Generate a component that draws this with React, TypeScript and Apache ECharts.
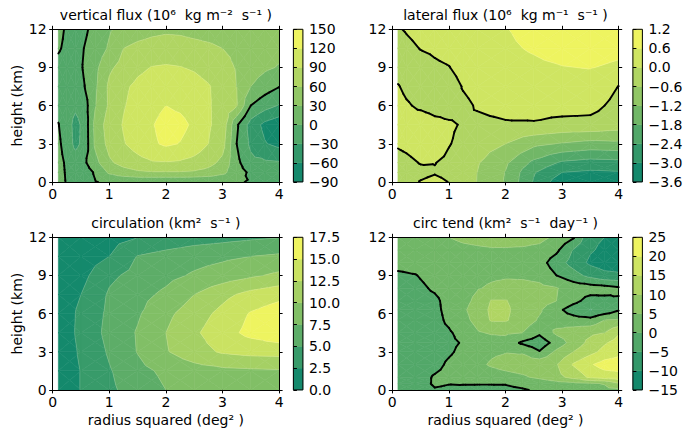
import React, { useEffect, useRef } from 'react';
import * as echarts from 'echarts';

const FONT = 'DejaVu Sans';

// ---------------- vertical flux ----------------
const vfX = [0.1, 0.25, 0.4, 0.55, 0.75, 1.0, 1.25, 1.5, 1.75, 2.0, 2.25, 2.5, 2.75, 3.0, 3.25, 3.5, 3.75, 4.0];
const vfY = [0, 0.75, 1.5, 3, 4.5, 6, 7.5, 9, 10.5, 12];
const vfZ = [
  [10, -2, -8, -12, -1, 4, 5, 5, 4, 3, 3, 3, 3, 3, 2, -1.5, -10, -12],
  [9, -3, -12, -14, 3, 35, 48, 55, 58, 58, 58, 56, 50, 38, 12, -5, -16, -20],
  [8, -4, -15, -6, 20, 55, 70, 80, 87, 88, 86, 80, 70, 52, 8, -22, -25, -27],
  [5, -12, -38, -22, 35, 70, 88, 102, 115, 125, 119, 108, 90, 72, 0, -36, -58, -68],
  [1, -15, -40, -22, 38, 75, 92, 105, 118, 130, 128, 115, 93, 80, 5, -42, -68, -80],
  [-8, -15, -24, -15, 28, 65, 88, 100, 112, 120, 115, 106, 93, 78, 62, 0, -18, -32],
  [-12, -15, -18, -2, 25, 66, 85, 96, 102, 105, 104, 100, 92, 80, 60, 30, 14, 1],
  [-8, -14, -16, 3, 22, 55, 70, 84, 91, 93, 91, 87, 80, 70, 58, 45, 35, 28],
  [3, -6, -14, 0, 12, 34, 60, 68, 72, 74, 73, 70, 66, 60, 54, 47, 42, 38],
  [8, -4, -10, -5, 8, 27, 38, 46, 52, 55, 54, 50, 47, 45, 43, 42, 41, 40],
];
const vfLevels = [-90, -60, -30, 0, 30, 60, 90, 120, 150];

// ---------------- lateral flux ----------------
const lfX = [0.1, 0.25, 0.5, 0.75, 1.0, 1.25, 1.5, 2.0, 2.5, 3.0, 3.5, 4.0];
const lfY = [0, 0.75, 1.5, 3, 4.5, 6, 7.5, 9, 10.5, 12];
const lfZ = [
  [-0.2, -0.15, 0.02, 0.1, -0.01, -0.2, -0.62, -1.25, -2.45, -3.4, -3.55, -3.5],
  [-0.2, -0.15, -0.1, -0.03, -0.1, -0.2, -0.6, -1.22, -2.35, -3.0, -3.1, -3.05],
  [-0.15, -0.1, 0.02, 0.01, -0.08, -0.2, -0.55, -1.1, -1.95, -2.5, -2.65, -2.6],
  [0.05, 0.1, 0.2, 0.2, 0.02, -0.1, -0.3, -0.6, -1.05, -1.25, -1.4, -1.35],
  [0.15, 0.2, 0.25, 0.12, 0.05, -0.03, -0.1, -0.05, -0.05, -0.15, -0.15, -0.3],
  [0.15, 0.05, -0.08, -0.15, -0.15, -0.1, 0.04, 0.15, 0.2, 0.2, 0.15, -0.15],
  [0.03, -0.1, -0.2, -0.25, -0.25, 0.03, 0.15, 0.3, 0.35, 0.4, 0.35, -0.01],
  [-0.2, -0.25, -0.25, -0.1, -0.02, 0.2, 0.28, 0.42, 0.5, 0.58, 0.62, 0.5],
  [-0.3, -0.15, 0.02, 0.1, 0.2, 0.3, 0.4, 0.52, 0.65, 0.8, 0.85, 0.75],
  [-0.05, 0.05, 0.2, 0.3, 0.35, 0.42, 0.48, 0.58, 0.75, 0.95, 1.0, 0.95],
];
const lfLevels = [-3.6, -3.0, -2.4, -1.8, -1.2, -0.6, 0, 0.6, 1.2];

// ---------------- circulation ----------------
const ciX = [0.1, 0.5, 1, 1.5, 2, 2.5, 3, 3.5, 4];
const ciY = [0, 1.5, 3, 4.5, 6, 7.5, 9, 10.5, 12];
const ciZ = [
  [0.5, 2.6, 4.5, 6.2, 7.5, 8.2, 8.7, 9.0, 9.2],
  [0.6, 2.6, 4.8, 6.8, 8.0, 8.9, 9.4, 9.6, 9.75],
  [0.6, 2.9, 5.3, 7.6, 9.8, 11.5, 12.8, 13.3, 13.4],
  [0.7, 3.2, 5.7, 7.7, 10.0, 12.1, 14.0, 15.7, 16.8],
  [0.7, 3.1, 5.5, 7.2, 9.4, 11.3, 13.2, 15.2, 16.4],
  [0.7, 2.5, 5.3, 6.7, 8.0, 10.0, 11.8, 13.3, 14.2],
  [0.6, 1.7, 4.5, 5.8, 6.8, 7.8, 8.7, 9.6, 10.5],
  [0.5, 1.3, 2.5, 5.1, 5.9, 6.6, 7.0, 7.5, 7.9],
  [0.4, 0.9, 1.6, 2.45, 3.2, 3.8, 4.2, 4.6, 4.9],
];
const ciLevels = [0, 2.5, 5, 7.5, 10, 12.5, 15, 17.5];

// ---------------- circ tend ----------------
const ctX = [0.1, 0.4, 0.75, 1.0, 1.25, 1.5, 1.75, 2.0, 2.3, 2.6, 2.9, 3.2, 3.5, 3.75, 4.0];
const ctY = [0, 0.5, 1, 2, 3, 3.7, 4.5, 5.5, 6.3, 7, 8, 9, 10, 11, 12];
const ctZ = [
  [-3, -2.5, -0.3, -0.5, -0.8, -1, -1, -0.8, -0.3, 0.5, 1.5, 2.5, 3.2, 3.8, 4.2],
  [-3, -2, 0.5, 0.1, 0.2, 0.2, 0.2, 0.2, 1, 2, 3, 3.8, 4.5, 5.3, 9.5],
  [-3, -2.5, 0.5, 1.5, 2, 2.5, 3, 3.5, 4.3, 6, 8.5, 11.5, 16, 17.5, 18],
  [-3, -2.8, -1.5, 0.8, 2.3, 4, 5.5, 6.5, 7.5, 8.5, 9.7, 15.5, 19.5, 22, 22.5],
  [-3, -2.8, -2, -0.7, 1.2, 3, 4.3, 4.8, 4.5, 0.3, 6, 10, 13.5, 16.5, 18.5],
  [-3, -2.7, -1.8, -0.8, 0.3, 2, 3, 3, -0.8, -3, 2, 7, 11.5, 14.5, 17],
  [-3, -2.5, -1.5, -0.5, 1.5, 4.5, 5.5, 5.8, 5, 1.0, 6, 7.5, 9, 10, 14.5],
  [-2.5, -2.2, -1.3, 0.8, 3.5, 6.5, 10.5, 10.5, 7.8, 4.5, 3, 2, 1.5, 5, 5.3],
  [-2.5, -2, -1, 1.2, 4.3, 7, 11, 11, 7.5, 5.6, 1.5, -2.5, -5.2, -3.5, -0.5],
  [-2.2, -1.8, -0.9, 1.5, 3.7, 6, 10.3, 10.3, 8, 7, 5, 1.5, -2, -1.5, -0.5],
  [-2, -1.2, 0.6, 2, 3.5, 4.7, 5.6, 6.3, 6.5, 6.2, 5.3, 3, 2.5, 2, 0.8],
  [-0.8, -0.2, 1.5, 2.5, 3, 3.8, 4.3, 4.5, 4.3, 3.5, 0, -3, -6.5, -8.5, -9],
  [1.5, 1.8, 2.2, 2.5, 3, 3.3, 3.5, 3.5, 3.2, 2, -2.5, -7, -11, -12.5, -13],
  [1.5, 2, 2.5, 3, 3.8, 4.2, 4.5, 4.5, 4.3, 3.5, 1, -5.3, -9.5, -11, -12],
  [2, 3, 4, 5, 6, 6.5, 7, 7, 7, 6.5, 4, 0.5, -9, -10, -10.5],
];
const ctLevels = [-15, -10, -5, 0, 5, 10, 15, 20, 25];

const titles = [
  'vertical flux (10⁶  kg m⁻²  s⁻¹ )',
  'lateral flux (10⁶  kg m⁻¹  s⁻¹ )',
  'circulation (km²  s⁻¹ )',
  'circ tend (km²  s⁻¹  day⁻¹ )',
];
const xTicks = [0, 1, 2, 3, 4];
const yTicks = [0, 3, 6, 9, 12];

// ---------------- contour helpers ----------------
type P3 = [number, number, number];

function interp(a: P3, b: P3, lv: number): P3 {
  const t = (lv - a[2]) / (b[2] - a[2]);
  return [a[0] + t * (b[0] - a[0]), a[1] + t * (b[1] - a[1]), lv];
}
function clip(poly: P3[], lv: number, above: boolean): P3[] {
  const out: P3[] = [];
  const n = poly.length;
  for (let i = 0; i < n; i++) {
    const cur = poly[i];
    const prev = poly[(i + n - 1) % n];
    const ci = above ? cur[2] >= lv : cur[2] <= lv;
    const pi = above ? prev[2] >= lv : prev[2] <= lv;
    if (ci) {
      if (!pi) out.push(interp(prev, cur, lv));
      out.push(cur);
    } else if (pi) out.push(interp(prev, cur, lv));
  }
  return out;
}
function triangles(xs: number[], ys: number[], z: number[][]): P3[][] {
  const tris: P3[][] = [];
  for (let j = 0; j < ys.length - 1; j++) {
    for (let i = 0; i < xs.length - 1; i++) {
      const a: P3 = [xs[i], ys[j], z[j][i]];
      const b: P3 = [xs[i + 1], ys[j], z[j][i + 1]];
      const c: P3 = [xs[i + 1], ys[j + 1], z[j + 1][i + 1]];
      const d: P3 = [xs[i], ys[j + 1], z[j + 1][i]];
      const m: P3 = [(xs[i] + xs[i + 1]) / 2, (ys[j] + ys[j + 1]) / 2, (a[2] + b[2] + c[2] + d[2]) / 4];
      tris.push([a, b, m], [b, c, m], [c, d, m], [d, a, m]);
    }
  }
  return tris;
}
function bands(tris: P3[][], levels: number[]) {
  const res: { k: number; pts: number[][] }[] = [];
  const nb = levels.length - 1;
  for (const t of tris) {
    for (let k = 0; k < nb; k++) {
      let p: P3[] = t;
      if (k > 0) p = clip(p, levels[k], true);
      if (p.length < 3) continue;
      if (k < nb - 1) p = clip(p, levels[k + 1], false);
      if (p.length < 3) continue;
      res.push({ k, pts: p.map((q) => [q[0], q[1]]) });
    }
  }
  return res;
}
function segments(tris: P3[][], lv: number) {
  const segs: number[][][] = [];
  for (const t of tris) {
    const pts: P3[] = [];
    for (let e = 0; e < 3; e++) {
      const a = t[e];
      const b = t[(e + 1) % 3];
      if (a[2] > lv !== b[2] > lv) pts.push(interp(a, b, lv));
    }
    if (pts.length === 2) segs.push([[pts[0][0], pts[0][1]], [pts[1][0], pts[1][1]]]);
  }
  return segs;
}
function bandColors(n: number) {
  const c0 = [20, 137, 108];
  const c1 = [238, 244, 96];
  return Array.from({ length: n }, (_, k) => {
    const t = n === 1 ? 0 : k / (n - 1);
    const c = c0.map((v, i) => Math.round(v + t * (c1[i] - v)));
    return `rgb(${c[0]},${c[1]},${c[2]})`;
  });
}
function fmt(dec: number) {
  return (v: number) => {
    const x = Math.abs(v) < 1e-9 ? 0 : v;
    return x.toFixed(dec).replace('-', '\u2212');
  };
}

const panels = [
  { xs: vfX, ys: vfY, z: vfZ, levels: vfLevels, zero: true, dec: 0, gx: 52.7, gy: 29.3, cbx: 293.4 },
  { xs: lfX, ys: lfY, z: lfZ, levels: lfLevels, zero: true, dec: 1, gx: 392.3, gy: 29.3, cbx: 632.9 },
  { xs: ciX, ys: ciY, z: ciZ, levels: ciLevels, zero: false, dec: 1, gx: 52.7, gy: 237.3, cbx: 293.4 },
  { xs: ctX, ys: ctY, z: ctZ, levels: ctLevels, zero: true, dec: 0, gx: 392.3, gy: 237.3, cbx: 632.9 },
];
const GW = 226.4;
const GH = 152.6;
const CBW = 9.5;
const FS = 14;

function buildOption() {
  const grid: any[] = [];
  const xAxis: any[] = [];
  const yAxis: any[] = [];
  const series: any[] = [];
  const graphic: any[] = [];
  const axisText = { color: '#000', fontFamily: FONT, fontSize: FS };
  const blackLine = { color: '#000', width: 1 };

  panels.forEach((p) => grid.push({ left: p.gx, top: p.gy, width: GW, height: GH }));
  panels.forEach((p) => grid.push({ left: p.cbx, top: p.gy, width: CBW, height: GH }));

  panels.forEach((p, pi) => {
    const bottomRow = pi >= 2;
    const leftCol = pi % 2 === 0;
    xAxis.push({
      gridIndex: pi, type: 'value', min: 0, max: 4, interval: 1, position: 'bottom', z: 10,
      axisLine: { show: true, onZero: false, lineStyle: blackLine },
      axisTick: { show: true, inside: false, length: 3.5, lineStyle: blackLine },
      axisLabel: { show: true, margin: 5, ...axisText, formatter: (v: number) => (xTicks.includes(v) ? String(v) : '') },
      splitLine: { show: false },
      name: bottomRow ? 'radius squared (deg² )' : '', nameLocation: 'middle', nameGap: 23,
      nameTextStyle: { ...axisText },
    });
    xAxis.push({
      gridIndex: pi, type: 'value', min: 0, max: 4, interval: 1, position: 'top', z: 10,
      axisLine: { show: true, onZero: false, lineStyle: blackLine },
      axisTick: { show: true, inside: false, length: 3.5, lineStyle: blackLine },
      axisLabel: { show: false }, splitLine: { show: false },
    });
    yAxis.push({
      gridIndex: pi, type: 'value', min: 0, max: 12, interval: 3, position: 'left', z: 10,
      axisLine: { show: true, onZero: false, lineStyle: blackLine },
      axisTick: { show: true, inside: false, length: 3.5, lineStyle: blackLine },
      axisLabel: { show: true, margin: 6, ...axisText, formatter: (v: number) => (yTicks.includes(v) ? String(v) : '') },
      splitLine: { show: false },
      name: leftCol ? 'height (km)' : '', nameLocation: 'middle', nameGap: 29, nameRotate: 90,
      nameTextStyle: { ...axisText },
    });
    yAxis.push({
      gridIndex: pi, type: 'value', min: 0, max: 12, interval: 3, position: 'right', z: 10,
      axisLine: { show: true, onZero: false, lineStyle: blackLine },
      axisTick: { show: true, inside: false, length: 3.5, lineStyle: blackLine },
      axisLabel: { show: false }, splitLine: { show: false },
    });
  });
  panels.forEach((p, pi) => {
    const L = p.levels;
    xAxis.push({ gridIndex: 4 + pi, type: 'value', min: 0, max: 1, show: false });
    yAxis.push({
      gridIndex: 4 + pi, type: 'value', min: L[0], max: L[L.length - 1], interval: L[1] - L[0], position: 'right', z: 10,
      axisLine: { show: false },
      axisTick: { show: true, inside: false, length: 3.5, lineStyle: blackLine },
      axisLabel: { show: true, margin: 6, ...axisText, formatter: fmt(p.dec) },
      splitLine: { show: false },
    });
  });

  panels.forEach((p, pi) => {
    const cols = bandColors(p.levels.length - 1);
    const tris = triangles(p.xs, p.ys, p.z);
    const polys = bands(tris, p.levels);
    series.push({
      type: 'custom', coordinateSystem: 'cartesian2d', xAxisIndex: 2 * pi, yAxisIndex: 2 * pi,
      silent: true, clip: true, z: 2,
      data: polys.map((q, i) => [q.pts[0][0], q.pts[0][1], i]),
      encode: { x: 0, y: 1 },
      renderItem: (params: any, api: any) => {
        const q = polys[params.dataIndex];
        return {
          type: 'polygon',
          shape: { points: q.pts.map((pt) => api.coord(pt)) },
          style: { fill: cols[q.k], stroke: cols[q.k], lineWidth: 0.6 },
        };
      },
    });
    const inner: number[][][] = [];
    p.levels.slice(1, -1).forEach((lv) => segments(tris, lv).forEach((s) => inner.push(s)));
    series.push({
      type: 'custom', coordinateSystem: 'cartesian2d', xAxisIndex: 2 * pi, yAxisIndex: 2 * pi,
      silent: true, clip: true, z: 3,
      data: inner.map((s, i) => [s[0][0], s[0][1], i]),
      encode: { x: 0, y: 1 },
      renderItem: (params: any, api: any) => {
        const s = inner[params.dataIndex];
        const a = api.coord(s[0]);
        const b = api.coord(s[1]);
        return { type: 'line', shape: { x1: a[0], y1: a[1], x2: b[0], y2: b[1] }, style: { stroke: 'rgba(255,255,255,0.28)', lineWidth: 0.6 } };
      },
    });
    if (p.zero) {
      const zs = segments(tris, 0);
      series.push({
        type: 'custom', coordinateSystem: 'cartesian2d', xAxisIndex: 2 * pi, yAxisIndex: 2 * pi,
        silent: true, clip: true, z: 4,
        data: zs.map((s, i) => [s[0][0], s[0][1], i]),
        encode: { x: 0, y: 1 },
        renderItem: (params: any, api: any) => {
          const s = zs[params.dataIndex];
          const a = api.coord(s[0]);
          const b = api.coord(s[1]);
          return { type: 'line', shape: { x1: a[0], y1: a[1], x2: b[0], y2: b[1] }, style: { stroke: '#000', lineWidth: 1.9, lineCap: 'round' } };
        },
      });
    }
    const L = p.levels;
    const nb = L.length - 1;
    series.push({
      type: 'custom', coordinateSystem: 'cartesian2d', xAxisIndex: 8 + pi, yAxisIndex: 8 + pi,
      silent: true, z: 2,
      data: Array.from({ length: nb + 1 }, (_, k) => [0.5, L[Math.min(k, nb - 1)], k]),
      encode: { x: 0, y: 1 },
      renderItem: (params: any, api: any) => {
        const k = params.dataIndex;
        if (k < nb) {
          const p1 = api.coord([0, L[k]]);
          const p2 = api.coord([1, L[k + 1]]);
          return {
            type: 'rect',
            shape: { x: p1[0], y: p2[1], width: p2[0] - p1[0], height: p1[1] - p2[1] },
            style: { fill: cols[k], stroke: cols[k], lineWidth: 0.5 },
          };
        }
        const p1 = api.coord([0, L[0]]);
        const p2 = api.coord([1, L[nb]]);
        return {
          type: 'rect',
          shape: { x: p1[0], y: p2[1], width: p2[0] - p1[0], height: p1[1] - p2[1] },
          style: { fill: 'none', stroke: '#000', lineWidth: 1 },
          z2: 10,
        };
      },
    });
    graphic.push({
      type: 'text',
      x: p.gx + GW / 2,
      y: p.gy - 14.5,
      style: {
        text: titles[pi], fill: '#000', font: `${FS}px "${FONT}"`,
        textAlign: 'center', textVerticalAlign: 'middle', align: 'center', verticalAlign: 'middle',
      },
    });
  });

  return { animation: false, backgroundColor: '#fff', grid, xAxis, yAxis, series, graphic };
}

export default function App() {
  const ref = useRef<HTMLDivElement>(null);
  useEffect(() => {
    if (!ref.current) return;
    const chart = echarts.init(ref.current, null, { renderer: 'svg' });
    chart.setOption(buildOption() as any);
    return () => chart.dispose();
  }, []);
  return <div ref={ref} style={{ position: 'fixed', left: 0, top: 0, width: 686, height: 433, background: '#fff' }} />;
}
